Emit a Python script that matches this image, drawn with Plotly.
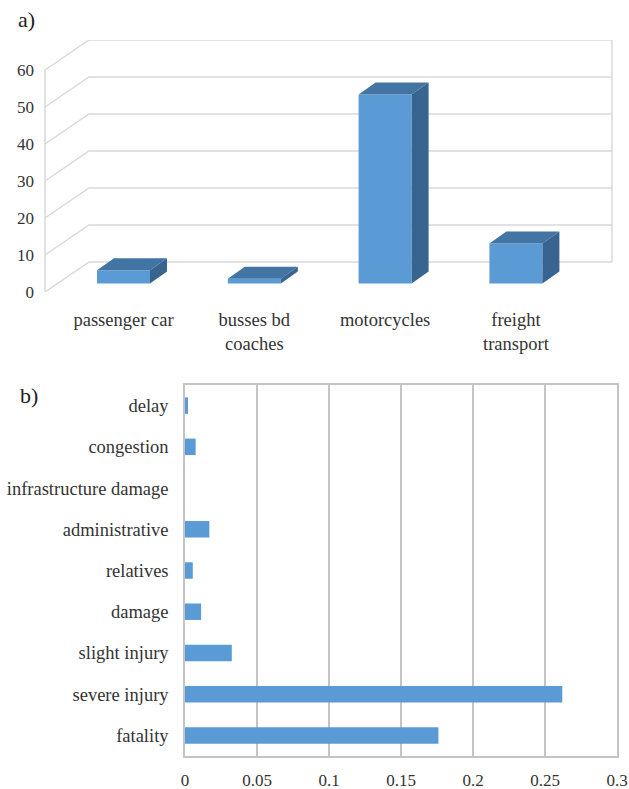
import plotly.graph_objects as go

# ---------- data ----------
vehicle_types = ["passenger car", "busses bd<br>coaches", "motorcycles", "freight<br>transport"]
vehicle_values = [3.6, 1.3, 51.1, 10.8]
a_ticks = [0, 10, 20, 30, 40, 50, 60]

cost_categories = ["fatality", "severe injury", "slight injury", "damage", "relatives",
                   "administrative", "infrastructure damage", "congestion", "delay"]
cost_values = [0.176, 0.262, 0.0325, 0.0112, 0.0054, 0.0169, 0.0, 0.0074, 0.0021]
b_ticks = [0, 0.05, 0.1, 0.15, 0.2, 0.25, 0.3]

# ---------- style / geometry ----------
W, H = 629, 789
FONT = "Liberation Serif"
FRONT = "#5B9BD5"
TOP = "#4375A4"
SIDE = "#386490"
GRID_A = "#D9D9D9"
GRID_B = "#C4C4C4"


def fx(p):
    return p / W


def fy(p):
    return 1 - p / H


# panel a pixel frame (reference pixels)
px0, px1 = 30, 620
py_top, py_bot = 40, 292
cx0, cstep = 123.5, 130.8
xr = [(px0 - cx0) / cstep, (px1 - cx0) / cstep]
yr = [0, (py_bot - py_top) / 3.7]
x_front = (45 - cx0) / cstep
x_back = (89 - cx0) / cstep
x_right = (612 - cx0) / cstep
dy_wall = 30 / 3.7
bar_w = 53 / cstep
bar_base = 8.5 / 3.7
dxb, dyb = 17 / cstep, 12 / 3.7

fig = go.Figure()

xs = list(range(len(vehicle_types)))
fig.add_trace(go.Bar(x=xs, y=vehicle_values, base=[bar_base] * len(xs), width=bar_w,
                     marker=dict(color=FRONT, line=dict(width=0)),
                     xaxis="x", yaxis="y", showlegend=False))
for c, v in zip(xs, vehicle_values):
    l, r = c - bar_w / 2, c + bar_w / 2
    t = bar_base + v
    fig.add_trace(go.Scatter(x=[l, r, r + dxb, l + dxb, l], y=[t, t, t + dyb, t + dyb, t],
                             fill="toself", fillcolor=TOP, mode="none",
                             xaxis="x", yaxis="y", showlegend=False, hoverinfo="skip"))
    fig.add_trace(go.Scatter(x=[r, r, r + dxb, r + dxb, r],
                             y=[bar_base, t, t + dyb, bar_base + dyb, bar_base],
                             fill="toself", fillcolor=SIDE, mode="none",
                             xaxis="x", yaxis="y", showlegend=False, hoverinfo="skip"))

shapes = []
for v in a_ticks:
    shapes.append(dict(type="path", xref="x", yref="y", layer="below",
                       path=f"M {x_front},{v} L {x_back},{v + dy_wall} L {x_right},{v + dy_wall}",
                       line=dict(color=GRID_A, width=1.5)))
shapes.append(dict(type="line", xref="x", yref="y", layer="below",
                   x0=x_front, x1=x_front, y0=0, y1=a_ticks[-1],
                   line=dict(color=GRID_A, width=1.5)))
shapes.append(dict(type="line", xref="x", yref="y", layer="below",
                   x0=x_right, x1=x_right, y0=dy_wall, y1=a_ticks[-1] + dy_wall,
                   line=dict(color=GRID_A, width=1.5)))

fig.add_trace(go.Bar(y=cost_categories, x=cost_values, orientation="h", width=0.4,
                     marker=dict(color=FRONT, line=dict(width=0)),
                     xaxis="x2", yaxis="y2", showlegend=False))

numfont = dict(family=FONT, size=17, color="#333333")
catfont = dict(family=FONT, size=18.5, color="#333333")

fig.update_layout(
    width=W, height=H,
    margin=dict(l=0, r=0, t=0, b=0),
    paper_bgcolor="white", plot_bgcolor="rgba(0,0,0,0)",
    font=catfont,
    shapes=shapes,
    xaxis=dict(domain=[fx(px0), fx(px1)], range=xr, tickmode="array",
               tickvals=xs, ticktext=vehicle_types, showgrid=False, zeroline=False,
               showline=False, ticks="", ticklabelstandoff=14, tickfont=catfont,
               anchor="y", automargin=False, fixedrange=True),
    yaxis=dict(domain=[fy(py_bot), fy(py_top)], range=yr, tickmode="array",
               tickvals=a_ticks, showgrid=False, zeroline=False, showline=False,
               ticks="", anchor="free", position=fx(45), ticklabelstandoff=11,
               tickfont=numfont, automargin=False, fixedrange=True),
    xaxis2=dict(domain=[fx(185), fx(617)], range=[0, 0.3], tickmode="array",
                tickvals=b_ticks, ticktext=[f"{t:g}" for t in b_ticks],
                showgrid=True, gridcolor=GRID_B, gridwidth=1.5, zeroline=False,
                showline=True, linecolor=GRID_B, linewidth=1.5, mirror=True,
                ticks="", ticklabelstandoff=8, tickfont=numfont, anchor="y2",
                automargin=False, fixedrange=True),
    yaxis2=dict(domain=[fy(756), fy(385)], categoryorder="array",
                categoryarray=cost_categories, showgrid=False, zeroline=False,
                showline=True, linecolor=GRID_B, linewidth=1.5, mirror=True,
                ticks="", ticklabelstandoff=11, tickfont=catfont, anchor="x2",
                automargin=False, fixedrange=True),
    annotations=[
        dict(text="a)", x=fx(16), y=fy(20), xref="paper", yref="paper",
             xanchor="left", yanchor="middle", showarrow=False,
             font=dict(family=FONT, size=22, color="#222222")),
        dict(text="b)", x=fx(18), y=fy(395), xref="paper", yref="paper",
             xanchor="left", yanchor="middle", showarrow=False,
             font=dict(family=FONT, size=22, color="#222222")),
    ],
)

fig.write_html("out.html", config={"displayModeBar": False},
               post_script="document.body.style.margin='0';document.body.style.overflow='hidden';")
